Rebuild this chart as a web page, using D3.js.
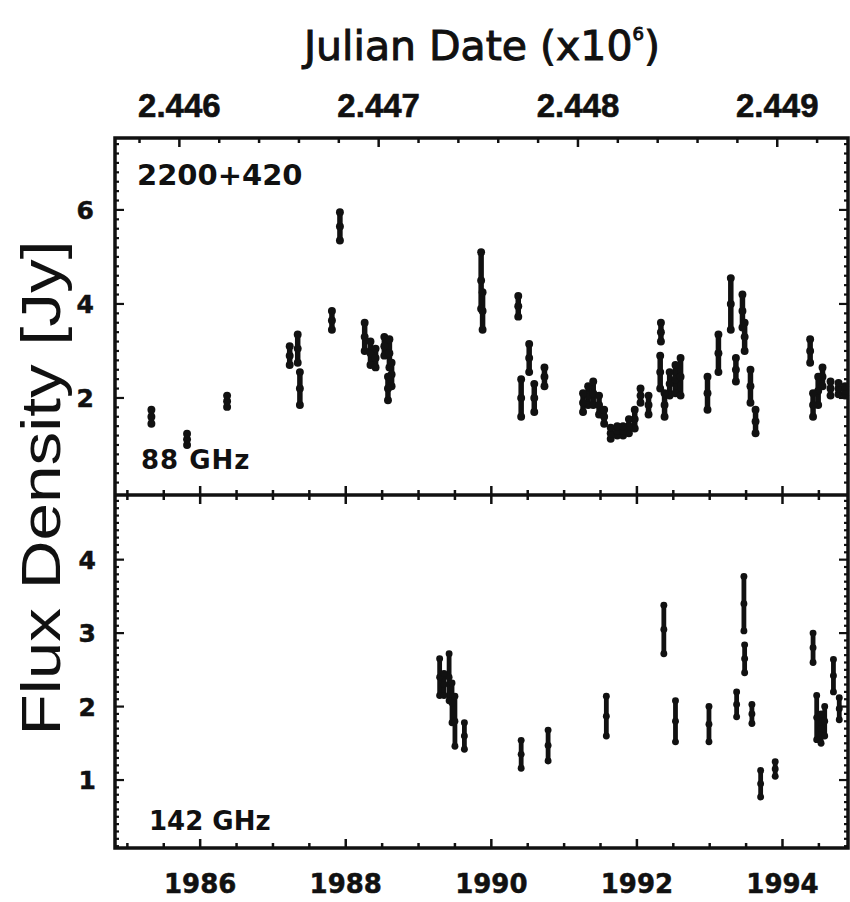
<!DOCTYPE html>
<html>
<head>
<meta charset="utf-8">
<script src="https://cdn.jsdelivr.net/npm/d3@7"></script>
<style>
  html, body { margin: 0; padding: 0; background: #ffffff; }
  svg { display: block; }
</style>
</head>
<body>
<svg id="chart" width="850" height="902"></svg>
<script>
// 2200+420 light curves: 88 GHz (upper panel) and 142 GHz (lower panel)

// 88 GHz measurements: epoch (decimal year), flux density (Jy), 1-sigma error (Jy)
const years88 = [1985.33, 1985.82, 1986.37, 1987.23, 1987.34, 1987.37, 1987.81, 1987.92,
  1988.26, 1988.34, 1988.41, 1988.53, 1988.60, 1988.58, 1988.63, 1989.86, 1989.88,
  1990.37, 1990.41, 1990.52, 1990.59, 1990.73, 1991.26, 1991.33, 1991.40, 1991.48,
  1991.55, 1991.64, 1991.73, 1991.81, 1991.89, 1991.97, 1992.05, 1992.16, 1992.33,
  1992.32, 1992.38, 1992.45, 1992.53, 1992.60, 1992.97, 1993.12, 1993.29, 1993.36,
  1993.45, 1993.48, 1993.56, 1993.63, 1994.38, 1994.42, 1994.49, 1994.55, 1994.66,
  1994.77, 1994.86];
const flux88 = [1.60, 1.12, 1.93, 2.90, 3.05, 2.20, 3.65, 5.65,
  3.30, 2.95, 2.85, 3.10, 2.95, 2.20, 2.50, 4.50, 3.85,
  3.95, 2.00, 2.85, 2.00, 2.45, 1.90, 2.05, 2.10, 1.85,
  1.60, 1.25, 1.30, 1.30, 1.40, 1.55, 2.05, 1.85, 3.40,
  2.55, 1.85, 2.30, 2.40, 2.45, 2.10, 2.95, 4.00, 2.60,
  3.85, 3.30, 2.25, 1.50, 3.00, 1.85, 2.15, 2.45, 2.20,
  2.20, 2.15];
const err88 = [0.15, 0.12, 0.12, 0.20, 0.30, 0.35, 0.20, 0.30,
  0.30, 0.25, 0.20, 0.20, 0.30, 0.25, 0.25, 0.60, 0.40,
  0.22, 0.40, 0.30, 0.30, 0.20, 0.20, 0.20, 0.25, 0.20,
  0.15, 0.12, 0.10, 0.10, 0.15, 0.20, 0.15, 0.20, 0.20,
  0.35, 0.25, 0.25, 0.30, 0.40, 0.35, 0.40, 0.55, 0.25,
  0.35, 0.30, 0.35, 0.25, 0.25, 0.25, 0.30, 0.20, 0.15,
  0.12, 0.10];

// 142 GHz measurements
const years142 = [1989.29, 1989.35, 1989.42, 1989.46, 1989.50, 1989.63, 1990.41, 1990.78,
  1991.58, 1992.37, 1992.53, 1992.99, 1993.37, 1993.47, 1993.48, 1993.58, 1993.70,
  1993.90, 1994.42, 1994.47, 1994.53, 1994.58, 1994.70, 1994.78];
const flux142 = [2.40, 2.30, 2.40, 2.05, 1.80, 1.60, 1.35, 1.47,
  1.87, 3.05, 1.80, 1.76, 2.03, 3.40, 2.65, 1.90, 0.95,
  1.15, 2.80, 1.85, 1.70, 1.80, 2.42, 1.97];
const err142 = [0.25, 0.15, 0.32, 0.27, 0.34, 0.18, 0.19, 0.21,
  0.27, 0.33, 0.28, 0.24, 0.17, 0.37, 0.19, 0.13, 0.18,
  0.10, 0.20, 0.30, 0.20, 0.20, 0.22, 0.15];

// Axis ticks and labels
const yearTicks = [1986, 1988, 1990, 1992, 1994];
const jdTicks = [2446000, 2447000, 2448000, 2449000];
const jdLabels = ["2.446", "2.447", "2.448", "2.449"];
const fluxTicks88 = [2, 4, 6];
const fluxTicks142 = [1, 2, 3, 4];

const svg = d3.select("#chart");

const left = 115, right = 848;
const top1 = 138, mid = 495, bottom2 = 848;

// Calendar-year scale (bottom axis) and Julian-date scale (top axis)
const x = d3.scaleLinear().domain([1984.83, 1994.90]).range([left, right]);
const xJD = d3.scaleLinear().domain([2445677, 2449355]).range([left, right]);

const y88 = d3.scaleLinear().domain([-0.064, 7.53]).range([mid, top1]);
const y142 = d3.scaleLinear().domain([0.075, 4.88]).range([bottom2, mid]);

const boldFont = "'DejaVu Sans', sans-serif";
const ink = "#111";

// ---- ticks ----
function tickRange(a, b, step) {
  const out = [];
  for (let v = a; v <= b + 1e-9; v += step) out.push(+v.toFixed(6));
  return out;
}

const g = svg.append("g").attr("stroke", ink).attr("fill", "none");

// top frame: Julian-date ticks, minor every 200 days
tickRange(2445800, 2449200, 200).forEach(d => {
  const major = Math.abs(d % 1000) < 1e-6;
  g.append("line").attr("x1", xJD(d)).attr("x2", xJD(d))
    .attr("y1", top1).attr("y2", top1 + (major ? 9 : 5)).attr("stroke-width", 2.5);
});

// year ticks (half-year steps) on the divider and on the bottom frame
tickRange(1985, 1994.5, 0.5).forEach(d => {
  const major = Math.abs(d % 2) < 1e-6;
  const len = major ? 9 : 5;
  g.append("line").attr("x1", x(d)).attr("x2", x(d))
    .attr("y1", mid - len).attr("y2", mid + len).attr("stroke-width", 2.5);
  g.append("line").attr("x1", x(d)).attr("x2", x(d))
    .attr("y1", bottom2).attr("y2", bottom2 - len).attr("stroke-width", 2.5);
});

// flux ticks on left and right frames
tickRange(0.2, 7.4, 0.2).forEach(v => {
  const major = Math.abs(v % 2) < 1e-6 || Math.abs(v % 2 - 2) < 1e-6;
  const len = major ? 9 : 4;
  [[left, 1], [right, -1]].forEach(([xx, s]) => {
    g.append("line").attr("x1", xx).attr("x2", xx + s * len)
      .attr("y1", y88(v)).attr("y2", y88(v)).attr("stroke-width", 2.2);
  });
});
tickRange(0.1, 4.8, 0.1).forEach(v => {
  const major = Math.abs(v - Math.round(v)) < 1e-6;
  const len = major ? 9 : 4;
  [[left, 1], [right, -1]].forEach(([xx, s]) => {
    g.append("line").attr("x1", xx).attr("x2", xx + s * len)
      .attr("y1", y142(v)).attr("y2", y142(v)).attr("stroke-width", 2.2);
  });
});

// ---- frames ----
svg.append("rect").attr("x", left).attr("y", top1)
  .attr("width", right - left).attr("height", bottom2 - top1)
  .attr("fill", "none").attr("stroke", ink).attr("stroke-width", 3.5);
svg.append("line").attr("x1", left).attr("x2", right)
  .attr("y1", mid).attr("y2", mid).attr("stroke", ink).attr("stroke-width", 3.5);

// ---- tick labels ----
svg.append("g").selectAll("text").data(jdTicks).join("text")
  .attr("x", d => xJD(d)).attr("y", 117)
  .attr("text-anchor", "middle")
  .attr("font-family", "'Liberation Sans', Arial, sans-serif").attr("font-weight", "bold")
  .attr("font-size", 33)
  .attr("fill", ink).attr("stroke", ink).attr("stroke-width", 0.6)
  .text((d, i) => jdLabels[i]);

svg.append("g").selectAll("text").data(yearTicks).join("text")
  .attr("x", d => x(d)).attr("y", 893)
  .attr("text-anchor", "middle")
  .attr("font-family", boldFont).attr("font-weight", "bold").attr("font-size", 26)
  .attr("fill", ink).attr("stroke", ink).attr("stroke-width", 0.5)
  .text(d => d);

svg.append("g").selectAll("text").data(fluxTicks88).join("text")
  .attr("x", 94).attr("y", d => y88(d) + 9)
  .attr("text-anchor", "end")
  .attr("font-family", boldFont).attr("font-weight", "bold").attr("font-size", 25)
  .attr("fill", ink).attr("stroke", ink).attr("stroke-width", 0.5)
  .text(d => d);

svg.append("g").selectAll("text").data(fluxTicks142).join("text")
  .attr("x", 96).attr("y", d => y142(d) + 9)
  .attr("text-anchor", "end")
  .attr("font-family", boldFont).attr("font-weight", "bold").attr("font-size", 25)
  .attr("fill", ink).attr("stroke", ink).attr("stroke-width", 0.5)
  .text(d => d);

// ---- axis titles ----
const title = svg.append("text").attr("x", 482).attr("y", 60)
  .attr("text-anchor", "middle")
  .attr("font-family", "'DejaVu Sans', sans-serif").attr("font-size", 41)
  .attr("fill", ink).attr("stroke", ink).attr("stroke-width", 1);
title.append("tspan").text("Julian Date (x10");
title.append("tspan").attr("font-size", 18).attr("dy", -20).text("6");
title.append("tspan").attr("dy", 20).text(")");

svg.append("text")
  .attr("transform", "translate(60,488) rotate(-90)")
  .attr("text-anchor", "middle")
  .attr("font-family", "'Liberation Sans', Arial, sans-serif").attr("font-size", 56)
  .attr("textLength", 495).attr("lengthAdjust", "spacingAndGlyphs")
  .attr("fill", ink)
  .text("Flux Density [Jy]");

// ---- panel annotations ----
svg.append("text").attr("x", 137).attr("y", 185)
  .attr("font-family", boldFont).attr("font-weight", "bold").attr("font-size", 29)
  .attr("fill", ink).text("2200+420");
svg.append("text").attr("x", 141).attr("y", 469)
  .attr("font-family", boldFont).attr("font-weight", "bold").attr("font-size", 26)
  .attr("letter-spacing", 1)
  .attr("fill", ink).text("88 GHz");
svg.append("text").attr("x", 149).attr("y", 830)
  .attr("font-family", boldFont).attr("font-weight", "bold").attr("font-size", 26)
  .attr("fill", ink).text("142 GHz");

// ---- error bars ----
function drawBars(years, flux, err, yScale, width) {
  const data = years.map((yr, i) => ({ yr, f: flux[i], e: err[i] }));
  const layer = svg.append("g").attr("fill", ink).attr("stroke", ink);
  layer.selectAll("line").data(data).join("line")
    .attr("x1", d => x(d.yr)).attr("x2", d => x(d.yr))
    .attr("y1", d => yScale(d.f - d.e)).attr("y2", d => yScale(d.f + d.e))
    .attr("stroke-width", width).attr("stroke-linecap", "round");
  ["lo", "mid", "hi"].forEach(k => {
    layer.selectAll("circle." + k).data(data).join("circle").attr("class", k)
      .attr("cx", d => x(d.yr))
      .attr("cy", d => yScale(k === "lo" ? d.f - d.e : k === "hi" ? d.f + d.e : d.f))
      .attr("r", width * 0.72).attr("stroke", "none");
  });
}
drawBars(years88, flux88, err88, y88, 5.5);
drawBars(years142, flux142, err142, y142, 4.8);
</script>
</body>
</html>
